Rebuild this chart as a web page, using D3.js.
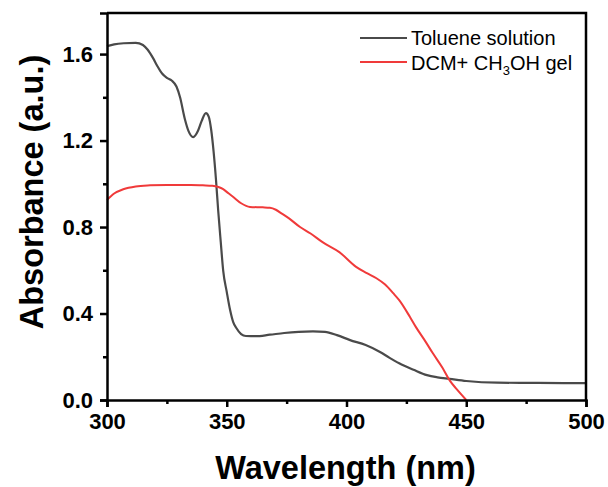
<!DOCTYPE html>
<html>
<head>
<meta charset="utf-8">
<script src="https://cdn.jsdelivr.net/npm/d3@7"></script>
<style>
  body { margin: 0; background: #fff; }
  text { font-family: "Liberation Sans", Arial, sans-serif; }
</style>
</head>
<body>
<script>
// Canvas size
const width = 608;
const height = 487;

// Toluene solution spectrum
const tolueneNm = [300, 303, 307, 312, 315, 317, 319.3, 321, 323, 325, 327, 329, 330.5, 332.5, 334, 336, 338, 339.5, 341.3, 342.5, 343.5, 344.5, 345.5, 346.4, 347.5, 348.5, 350, 351.4, 352.7, 354, 356, 358, 362, 368, 374, 380, 386, 391, 396, 401.5, 408, 414, 418, 422, 428, 433.6, 438, 443, 450, 463, 480, 500];
const tolueneAbs = [1.637, 1.645, 1.650, 1.652, 1.642, 1.62, 1.58, 1.545, 1.51, 1.49, 1.478, 1.45, 1.40, 1.30, 1.245, 1.216, 1.245, 1.29, 1.327, 1.31, 1.25, 1.15, 1.02, 0.88, 0.73, 0.60, 0.50, 0.416, 0.36, 0.333, 0.305, 0.296, 0.295, 0.302, 0.310, 0.315, 0.317, 0.315, 0.300, 0.277, 0.254, 0.222, 0.195, 0.17, 0.14, 0.115, 0.105, 0.098, 0.088, 0.080, 0.079, 0.078];

// DCM + CH3OH gel spectrum
const gelNm = [300, 303, 306.8, 312, 318, 325, 335, 340, 344, 346.5, 348.5, 350.5, 352.6, 356, 359.7, 365, 368, 370.5, 373, 376, 380.6, 385, 390, 397, 404, 408.5, 412.5, 416, 419.5, 422, 426.5, 429, 433, 436, 440, 443, 446, 450];
const gelAbs = [0.925, 0.955, 0.975, 0.988, 0.993, 0.995, 0.995, 0.993, 0.991, 0.985, 0.975, 0.958, 0.94, 0.91, 0.893, 0.891, 0.889, 0.88, 0.862, 0.84, 0.80, 0.77, 0.73, 0.684, 0.616, 0.587, 0.563, 0.535, 0.494, 0.462, 0.384, 0.337, 0.27, 0.217, 0.15, 0.092, 0.05, 0.0];

// Tick values
const xTicks = [300, 350, 400, 450, 500];
const xMinor = [325, 375, 425, 475];
const yTicks = [0, 0.4, 0.8, 1.2, 1.6];
const yMinor = [0.2, 0.6, 1.0, 1.4];

const margin = { left: 107, right: 22, top: 13, bottom: 87 };

const svg = d3.select('body')
  .append('svg')
  .attr('width', width)
  .attr('height', height);

const x = d3.scaleLinear().domain([300, 500]).range([margin.left, width - margin.right]);
const y = d3.scaleLinear().domain([0, 1.79]).range([height - margin.bottom, margin.top]);

// Lines
const line = d3.line()
  .x(d => x(d[0]))
  .y(d => y(d[1]))
  .curve(d3.curveMonotoneX);

svg.append('path')
  .datum(d3.zip(tolueneNm, tolueneAbs))
  .attr('d', line)
  .attr('fill', 'none')
  .attr('stroke', '#4a4a4a')
  .attr('stroke-width', 2.2);

svg.append('path')
  .datum(d3.zip(gelNm, gelAbs))
  .attr('d', line)
  .attr('fill', 'none')
  .attr('stroke', '#f03a3a')
  .attr('stroke-width', 2);

// Frame (top and right)
svg.append('path')
  .attr('d', `M${x(300)},${y(1.79)}H${x(500)}V${y(0)}`)
  .attr('fill', 'none')
  .attr('stroke', '#000')
  .attr('stroke-width', 2.5);

// Bottom axis
const xAxis = svg.append('g')
  .attr('transform', `translate(0,${y(0)})`)
  .call(d3.axisBottom(x).tickValues(xTicks).tickSize(7).tickPadding(6).tickFormat(d3.format('d')));
svg.append('g')
  .attr('transform', `translate(0,${y(0)})`)
  .call(d3.axisBottom(x).tickValues(xMinor).tickSize(4).tickFormat(''))
  .call(g => g.select('.domain').remove())
  .selectAll('line').attr('stroke-width', 2.5);

// Left axis
const yAxis = svg.append('g')
  .attr('transform', `translate(${x(300)},0)`)
  .call(d3.axisLeft(y).tickValues(yTicks).tickSize(7).tickPadding(7).tickFormat(d3.format('.1f')));
svg.append('g')
  .attr('transform', `translate(${x(300)},0)`)
  .call(d3.axisLeft(y).tickValues(yMinor).tickSize(4).tickFormat(''))
  .call(g => g.select('.domain').remove())
  .selectAll('line').attr('stroke-width', 2.5);

[xAxis, yAxis].forEach(g => {
  g.select('.domain').attr('stroke-width', 2.5);
  g.selectAll('.tick line').attr('stroke-width', 2.5);
  g.selectAll('.tick text')
    .attr('font-size', 22)
    .attr('font-weight', 'bold')
    .attr('font-family', '"Liberation Sans", Arial, sans-serif')
    .attr('fill', '#000');
});

// Axis titles
svg.append('text')
  .attr('x', (x(300) + x(500)) / 2 - 1)
  .attr('y', 479)
  .attr('text-anchor', 'middle')
  .attr('font-size', 32.5)
  .attr('font-weight', 'bold')
  .text('Wavelength (nm)');

svg.append('text')
  .attr('transform', 'translate(43,192) rotate(-90)')
  .attr('text-anchor', 'middle')
  .attr('font-size', 32.5)
  .attr('font-weight', 'bold')
  .text('Absorbance (a.u.)');

// Legend
const legend = svg.append('g');
legend.append('line')
  .attr('x1', 360).attr('x2', 407).attr('y1', 38).attr('y2', 38)
  .attr('stroke', '#4a4a4a').attr('stroke-width', 2);
legend.append('text')
  .attr('x', 411).attr('y', 45)
  .attr('font-size', 20)
  .text('Toluene solution');

legend.append('line')
  .attr('x1', 360).attr('x2', 407).attr('y1', 62).attr('y2', 62)
  .attr('stroke', '#f03a3a').attr('stroke-width', 2);
const gelLabel = legend.append('text')
  .attr('x', 411).attr('y', 70)
  .attr('font-size', 20);
gelLabel.append('tspan').text('DCM+ CH');
gelLabel.append('tspan').attr('font-size', 13).attr('dy', 5).text('3');
gelLabel.append('tspan').attr('dy', -5).text('OH gel');
</script>
</body>
</html>
